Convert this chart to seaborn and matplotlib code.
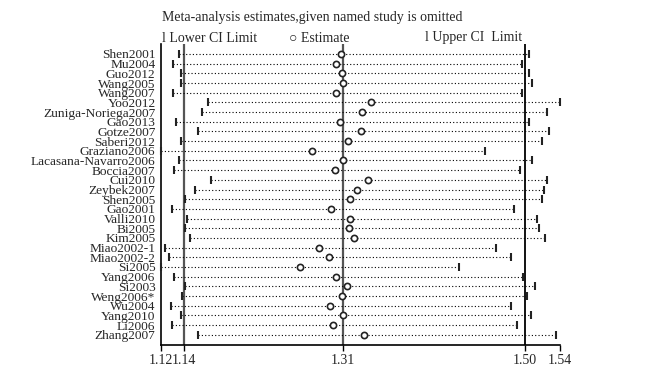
"""
Influence analysis plot: meta-analysis estimates with each named study omitted.
"""

import numpy as np
import pandas as pd
import seaborn as sns
import matplotlib.pyplot as plt

# Data
studies = ['Shen2001', 'Mu2004', 'Guo2012', 'Wang2005', 'Wang2007', 'Yoo2012',
           'Zuniga-Noriega2007', 'Gao2013', 'Gotze2007', 'Saberi2012', 'Graziano2006',
           'Lacasana-Navarro2006', 'Boccia2007', 'Cui2010', 'Zeybek2007', 'Shen2005',
           'Gao2001', 'Valli2010', 'Bi2005', 'Kim2005', 'Miao2002-1', 'Miao2002-2',
           'Si2005', 'Yang2006', 'Si2003', 'Weng2006*', 'Wu2004', 'Yang2010',
           'Li2006', 'Zhang2007']
lower = [1.135, 1.129, 1.137, 1.137, 1.129, 1.166, 1.159, 1.132, 1.155, 1.137,
         1.116, 1.135, 1.130, 1.169, 1.152, 1.141, 1.128, 1.143, 1.141, 1.147,
         1.120, 1.124, 1.116, 1.130, 1.141, 1.138, 1.127, 1.137, 1.128, 1.155]
estimate = [1.3055, 1.3002, 1.3068, 1.3082, 1.3002, 1.3372, 1.3276, 1.3044, 1.3269, 1.3132,
            1.2752, 1.3079, 1.2995, 1.3343, 1.3227, 1.3153, 1.2949, 1.3150, 1.3145, 1.3198,
            1.2822, 1.2928, 1.2628, 1.3008, 1.3124, 1.3065, 1.2939, 1.3079, 1.2970, 1.3307]
upper = [1.5040, 1.4969, 1.5040, 1.5072, 1.4972, 1.5370, 1.5236, 1.5046, 1.5257, 1.5184,
         1.4578, 1.5075, 1.4945, 1.5236, 1.5198, 1.5177, 1.4885, 1.5128, 1.5146, 1.5209,
         1.4691, 1.4856, 1.4301, 1.4980, 1.5106, 1.5019, 1.4856, 1.5064, 1.4913, 1.5331]
overall = [1.14, 1.3076, 1.50]          # pooled lower CI, estimate, upper CI

df = pd.DataFrame({'study': studies, 'lower': lower, 'estimate': estimate, 'upper': upper})
df['pos'] = np.arange(len(df))

sns.set_theme(style='white')
plt.rcParams['font.family'] = ['Liberation Serif', 'DejaVu Sans']

fig = plt.figure(figsize=(6.47, 3.68), dpi=100)
ax = fig.add_axes([161 / 647, 23 / 368, 399 / 647, 301 / 368])

# dotted line from lower to upper limit for each omitted study
ax.hlines(df['pos'], df['lower'], df['upper'], colors='black',
          linestyles=(0, (1, 2)), linewidth=0.8, zorder=2)

# pooled reference lines
ax.axvline(overall[0], color='#555555', lw=1.6, zorder=1)
ax.axvline(overall[1], color='#555555', lw=1.6, zorder=1)
ax.axvline(overall[2], color='black', lw=1.3, zorder=1)

# CI limit marks and estimates
sns.scatterplot(data=df, x='lower', y='pos', marker='|', s=30, color='#222222',
                linewidth=1.5, ax=ax, zorder=3, clip_on=False)
sns.scatterplot(data=df, x='upper', y='pos', marker='|', s=30, color='#222222',
                linewidth=1.5, ax=ax, zorder=3, clip_on=False)
sns.scatterplot(data=df, x='estimate', y='pos', marker='o', s=20, facecolor='white',
                edgecolor='#222222', linewidth=1.2, ax=ax, zorder=4)

xmin, xmax = min(lower), max(upper)
ax.set_xlim(xmin, xmax)
ax.set_ylim(len(df) + 0.06, -1.03)

xticks = [xmin, overall[0], overall[1], overall[2], xmax]
ax.set_xticks(xticks)
ax.set_xticklabels([f'{t:.2f}' for t in xticks], fontsize=10)
ax.set_yticks(df['pos'])
ax.set_yticklabels(df['study'], fontsize=9.6)
ax.tick_params(axis='x', length=4.5, width=1, color='black', pad=2, bottom=True)
ax.tick_params(axis='y', length=0, pad=4)
ax.set_xlabel('')
ax.set_ylabel('')

for side in ['top', 'right']:
    ax.spines[side].set_visible(False)
for side in ['left', 'bottom']:
    ax.spines[side].set_color('black')
    ax.spines[side].set_linewidth(1.2)

# title and text legend above the plot
fig.text(162 / 647, 1 - 18 / 368, 'Meta-analysis estimates,given named study is omitted',
         fontsize=10, va='center', ha='left')
fig.text(162 / 647, 1 - 38 / 368, 'l Lower CI Limit', fontsize=10, va='center', ha='left')
fig.text(289 / 647, 1 - 38 / 368, '○ Estimate', fontsize=10, va='center', ha='left')
fig.text(425 / 647, 1 - 38 / 368, 'l Upper CI  Limit', fontsize=10, va='center', ha='left')

fig.savefig('out.png', dpi=100, facecolor='white')
